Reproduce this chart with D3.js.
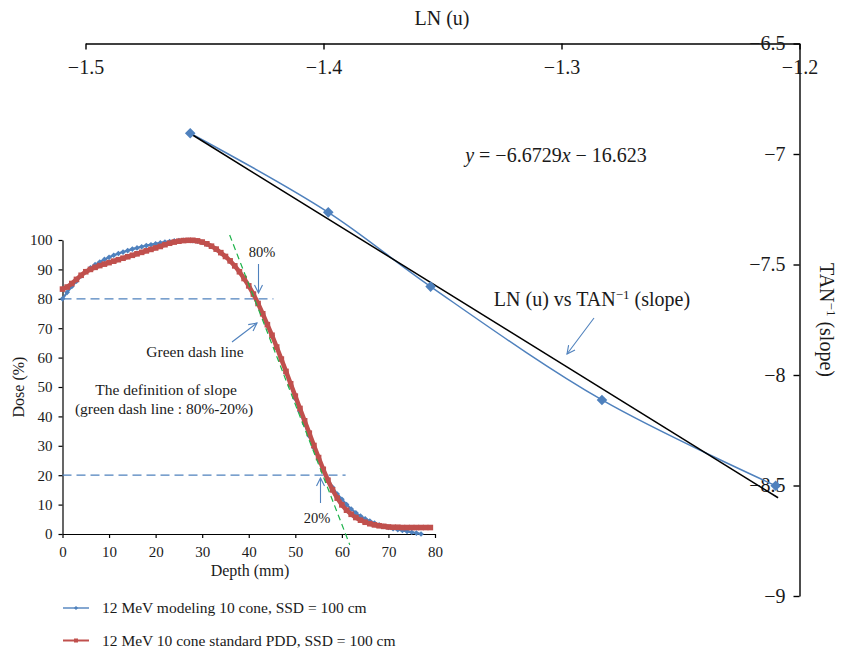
<!DOCTYPE html>
<html>
<head>
<meta charset="utf-8">
<script src="https://cdn.jsdelivr.net/npm/d3@7"></script>
<style>
body { margin: 0; background: #fff; }
svg { font-family: "Liberation Serif", serif; }
.axis path, .axis line { stroke: #000; }
.axis text { fill: #1a1a1a; font-family: "Liberation Serif", serif; }
</style>
</head>
<body>
<svg width="842" height="650"></svg>
<script>
// main chart: LN(u) vs TAN^-1(slope)
var lnU = [-1.456, -1.398, -1.355, -1.283, -1.210];
var tanSlope = [-6.906, -7.264, -7.600, -8.113, -8.501];
var fitSlope = -6.6729, fitIntercept = -16.623;   // trendline shown in the chart
var fitRange = [-1.456, -1.209];
var lnTicks = [-1.5, -1.4, -1.3, -1.2];
var slopeTicks = [-6.5, -7, -7.5, -8, -8.5, -9];

// inset chart: PDD curves
var depthMm = d3.range(0, 80);
var pddStandard = [
  83.3, 84.0, 85.2, 86.6, 88.0, 89.2, 90.0, 90.7, 91.3, 91.8,
  92.3, 92.8, 93.3, 93.8, 94.3, 94.8, 95.3, 95.8, 96.3, 96.8,
  97.3, 97.8, 98.4, 98.9, 99.3, 99.6, 99.8, 99.9, 99.9, 99.7,
  99.3, 98.7, 97.9, 96.9, 95.7, 94.4, 92.9, 91.2, 89.2, 86.9,
  84.4, 81.6, 78.4, 74.9, 71.2, 67.6, 63.6, 59.5, 55.3, 51.1,
  46.9, 42.7, 38.5, 34.3, 30.1, 26.0, 22.0, 18.3, 15.0, 12.2,
  9.9, 8.1, 6.7, 5.6, 4.7, 4.0, 3.5, 3.1, 2.8, 2.6,
  2.4, 2.3, 2.3, 2.2, 2.2, 2.2, 2.2, 2.2, 2.2, 2.2];
var pddModel = [
  80.0, 82.2, 84.2, 86.0, 87.8, 89.3, 90.5, 91.6, 92.5, 93.4,
  94.1, 94.8, 95.4, 95.9, 96.4, 96.9, 97.3, 97.7, 98.1, 98.4,
  98.7, 99.0, 99.3, 99.5, 99.7, 99.8, 99.9, 99.9, 99.8, 99.6,
  99.2, 98.6, 97.8, 96.8, 95.6, 94.3, 92.8, 91.1, 89.1, 86.8,
  84.3, 81.4, 78.3, 74.9, 71.3, 67.4, 63.3, 59.1, 54.8, 50.4,
  46.0, 41.7, 37.4, 33.3, 29.3, 25.5, 21.9, 18.7, 15.9, 13.6,
  11.8, 10.0, 8.5, 7.2, 6.1, 5.2, 4.4, 3.7, 3.1, 2.6,
  2.2, 1.8, 1.5, 1.2, 0.9, 0.6, 0.3, 0.0];
var greenDash = [[35.9, 101.7], [61.7, -3.7]];
var refLevels = [[80, 45.3], [20, 60.8]];   // dose level, end depth of the dashed guide
var seriesNames = ["12 MeV modeling 10 cone, SSD = 100 cm", "12 MeV 10 cone standard PDD, SSD = 100 cm"];

var blue = "#4f81bd", red = "#c0504d", green = "#1db34a";

var svg = d3.select("svg");

var defs = svg.append("defs");
defs.append("marker")
    .attr("id", "arrow")
    .attr("viewBox", "0 0 10 10")
    .attr("refX", 9).attr("refY", 5)
    .attr("markerWidth", 10).attr("markerHeight", 10)
    .attr("markerUnits", "userSpaceOnUse")
    .attr("orient", "auto")
    .append("path")
    .attr("d", "M1,1 L9,5 L1,9")
    .attr("fill", "none")
    .attr("stroke", blue)
    .attr("stroke-width", 1.1);

// ---------- main chart ----------
var x = d3.scaleLinear().domain([-1.5, -1.2]).range([85.5, 799.5]);
var y = d3.scaleLinear().domain([-6.5, -9]).range([43.5, 596]);

svg.append("g")
    .attr("class", "axis top")
    .attr("transform", "translate(0,43.5)")
    .call(d3.axisBottom(x).tickValues(lnTicks).tickSize(6).tickSizeOuter(0).tickPadding(10).tickFormat(d3.format(".1f")))
    .call(function(g) {
        g.selectAll("text").attr("font-size", 20);
        g.selectAll("path, line").attr("stroke-width", 1.4);
    });

svg.append("g")
    .attr("class", "axis right")
    .attr("transform", "translate(799.5,0)")
    .call(d3.axisLeft(y).tickValues(slopeTicks).tickSize(6).tickSizeOuter(0).tickPadding(8).tickFormat(d3.format("~g")))
    .call(function(g) {
        g.selectAll("text").attr("font-size", 20);
        g.selectAll("path, line").attr("stroke-width", 1.4);
    });

svg.append("text")
    .attr("x", 442).attr("y", 25)
    .attr("text-anchor", "middle")
    .attr("font-size", 20)
    .attr("fill", "#1a1a1a")
    .text("LN (u)");

var rt = svg.append("text")
    .attr("transform", "translate(820,320) rotate(90)")
    .attr("text-anchor", "middle")
    .attr("font-size", 20)
    .attr("fill", "#1a1a1a");
rt.append("tspan").text("TAN");
rt.append("tspan").attr("font-size", 13).attr("dy", -7).text("\u22121");
rt.append("tspan").attr("dy", 7).text(" (slope)");

var pts = lnU.map(function(d, i) { return [d, tanSlope[i]]; });

svg.append("path")
    .datum(pts)
    .attr("fill", "none")
    .attr("stroke", blue)
    .attr("stroke-width", 1.5)
    .attr("d", d3.line().x(function(d) { return x(d[0]); }).y(function(d) { return y(d[1]); }).curve(d3.curveCatmullRom.alpha(0.5)));

svg.append("path")
    .datum(fitRange.map(function(d) { return [d, fitSlope * d + fitIntercept]; }))
    .attr("fill", "none")
    .attr("stroke", "#000")
    .attr("stroke-width", 1.5)
    .attr("d", d3.line().x(function(d) { return x(d[0]); }).y(function(d) { return y(d[1]); }));

svg.selectAll(".mainpt")
    .data(pts)
    .enter().append("path")
    .attr("class", "mainpt")
    .attr("d", d3.symbol().type(d3.symbolSquare).size(56))
    .attr("transform", function(d) { return "translate(" + x(d[0]) + "," + y(d[1]) + ") rotate(45)"; })
    .attr("fill", blue);

var eq = svg.append("text")
    .attr("x", 556).attr("y", 162)
    .attr("text-anchor", "middle")
    .attr("font-size", 20)
    .attr("fill", "#1a1a1a");
eq.append("tspan").attr("font-style", "italic").text("y");
eq.append("tspan").text(" = \u22126.6729");
eq.append("tspan").attr("font-style", "italic").text("x");
eq.append("tspan").text(" \u2212 16.623");

var lab = svg.append("text")
    .attr("x", 592).attr("y", 306)
    .attr("text-anchor", "middle")
    .attr("font-size", 20)
    .attr("fill", "#1a1a1a");
lab.append("tspan").text("LN (u) vs TAN");
lab.append("tspan").attr("font-size", 13).attr("dy", -7).text("\u22121");
lab.append("tspan").attr("dy", 7).text(" (slope)");

svg.append("line")
    .attr("x1", 594).attr("y1", 318).attr("x2", 567).attr("y2", 354)
    .attr("stroke", blue).attr("stroke-width", 1.1)
    .attr("marker-end", "url(#arrow)");

// ---------- inset chart ----------
var xi = d3.scaleLinear().domain([0, 80]).range([62.5, 435]);
var yi = d3.scaleLinear().domain([0, 100]).range([534, 240]);

svg.append("g")
    .attr("class", "axis inset-x")
    .attr("transform", "translate(0,534)")
    .call(d3.axisBottom(xi).tickValues(d3.range(0, 81, 10)).tickSize(4).tickSizeOuter(0).tickPadding(8))
    .call(function(g) {
        g.selectAll("text").attr("font-size", 15);
        g.selectAll("path, line").attr("stroke-width", 1.2);
    });

svg.append("g")
    .attr("class", "axis inset-y")
    .attr("transform", "translate(62.5,0)")
    .call(d3.axisLeft(yi).tickValues(d3.range(0, 101, 10)).tickSize(4).tickSizeOuter(0).tickPadding(6))
    .call(function(g) {
        g.selectAll("text").attr("font-size", 15);
        g.selectAll("path, line").attr("stroke-width", 1.2);
    });

svg.append("text")
    .attr("x", 250).attr("y", 576)
    .attr("text-anchor", "middle")
    .attr("font-size", 16)
    .attr("fill", "#1a1a1a")
    .text("Depth (mm)");

svg.append("text")
    .attr("transform", "translate(24,387) rotate(-90)")
    .attr("text-anchor", "middle")
    .attr("font-size", 16)
    .attr("fill", "#1a1a1a")
    .text("Dose (%)");

// 80% / 20% guides
svg.selectAll(".guide")
    .data(refLevels)
    .enter().append("line")
    .attr("class", "guide")
    .attr("x1", xi(0)).attr("x2", function(d) { return xi(d[1]); })
    .attr("y1", function(d) { return yi(d[0]); }).attr("y2", function(d) { return yi(d[0]); })
    .attr("stroke", blue)
    .attr("stroke-width", 1.2)
    .attr("stroke-dasharray", "9,5");

var lineIn = d3.line().x(function(d) { return xi(d[0]); }).y(function(d) { return yi(d[1]); });

var modelPts = pddModel.map(function(v, i) { return [depthMm[i], v]; });
var stdPts = pddStandard.map(function(v, i) { return [depthMm[i], v]; });

svg.append("path")
    .datum(modelPts)
    .attr("fill", "none")
    .attr("stroke", blue)
    .attr("stroke-width", 2.2)
    .attr("d", lineIn);
svg.selectAll(".mpt")
    .data(modelPts)
    .enter().append("path")
    .attr("class", "mpt")
    .attr("d", d3.symbol().type(d3.symbolSquare).size(16))
    .attr("transform", function(d) { return "translate(" + xi(d[0]) + "," + yi(d[1]) + ") rotate(45)"; })
    .attr("fill", blue);

svg.append("path")
    .datum(stdPts)
    .attr("fill", "none")
    .attr("stroke", red)
    .attr("stroke-width", 4.5)
    .attr("d", lineIn);
svg.selectAll(".spt")
    .data(stdPts)
    .enter().append("rect")
    .attr("class", "spt")
    .attr("x", function(d) { return xi(d[0]) - 2.8; })
    .attr("y", function(d) { return yi(d[1]) - 2.8; })
    .attr("width", 5.6).attr("height", 5.6)
    .attr("fill", red);

svg.append("path")
    .datum(greenDash)
    .attr("fill", "none")
    .attr("stroke", green)
    .attr("stroke-width", 1.2)
    .attr("stroke-dasharray", "6,4")
    .attr("d", lineIn);

// annotations
function note(tx, ty, size, str) {
    svg.append("text")
        .attr("x", tx).attr("y", ty)
        .attr("text-anchor", "middle")
        .attr("font-size", size)
        .attr("fill", "#1a1a1a")
        .text(str);
}
note(262, 257, 14.5, "80%");
note(195, 357, 15.5, "Green dash line");
note(166, 395, 15.5, "The definition of slope");
note(164, 414, 15.5, "(green dash line : 80%-20%)");
note(317, 523, 14.5, "20%");

function arrow(x1, y1, x2, y2) {
    svg.append("line")
        .attr("x1", x1).attr("y1", y1).attr("x2", x2).attr("y2", y2)
        .attr("stroke", blue).attr("stroke-width", 1.1)
        .attr("marker-end", "url(#arrow)");
}
arrow(258.5, 264, 258.5, 293);
arrow(232, 342, 257, 323);
arrow(320.5, 503, 320.5, 478);

// legend
var legend = svg.selectAll(".legend")
    .data(seriesNames)
    .enter().append("g")
    .attr("class", "legend")
    .attr("transform", function(d, i) { return "translate(63," + (608 + i * 32.5) + ")"; });
legend.append("line")
    .attr("x1", 0).attr("x2", 26)
    .attr("stroke", function(d, i) { return i ? red : blue; })
    .attr("stroke-width", function(d, i) { return i ? 2 : 1.4; });
legend.append("path")
    .attr("d", function(d, i) { return d3.symbol().type(d3.symbolSquare).size(i ? 16 : 9)(); })
    .attr("transform", function(d, i) { return "translate(13,0)" + (i ? "" : " rotate(45)"); })
    .attr("fill", function(d, i) { return i ? red : blue; });
legend.append("text")
    .attr("x", 39).attr("y", 5)
    .attr("font-size", 15.5)
    .attr("fill", "#1a1a1a")
    .text(function(d) { return d; });
</script>
</body>
</html>
